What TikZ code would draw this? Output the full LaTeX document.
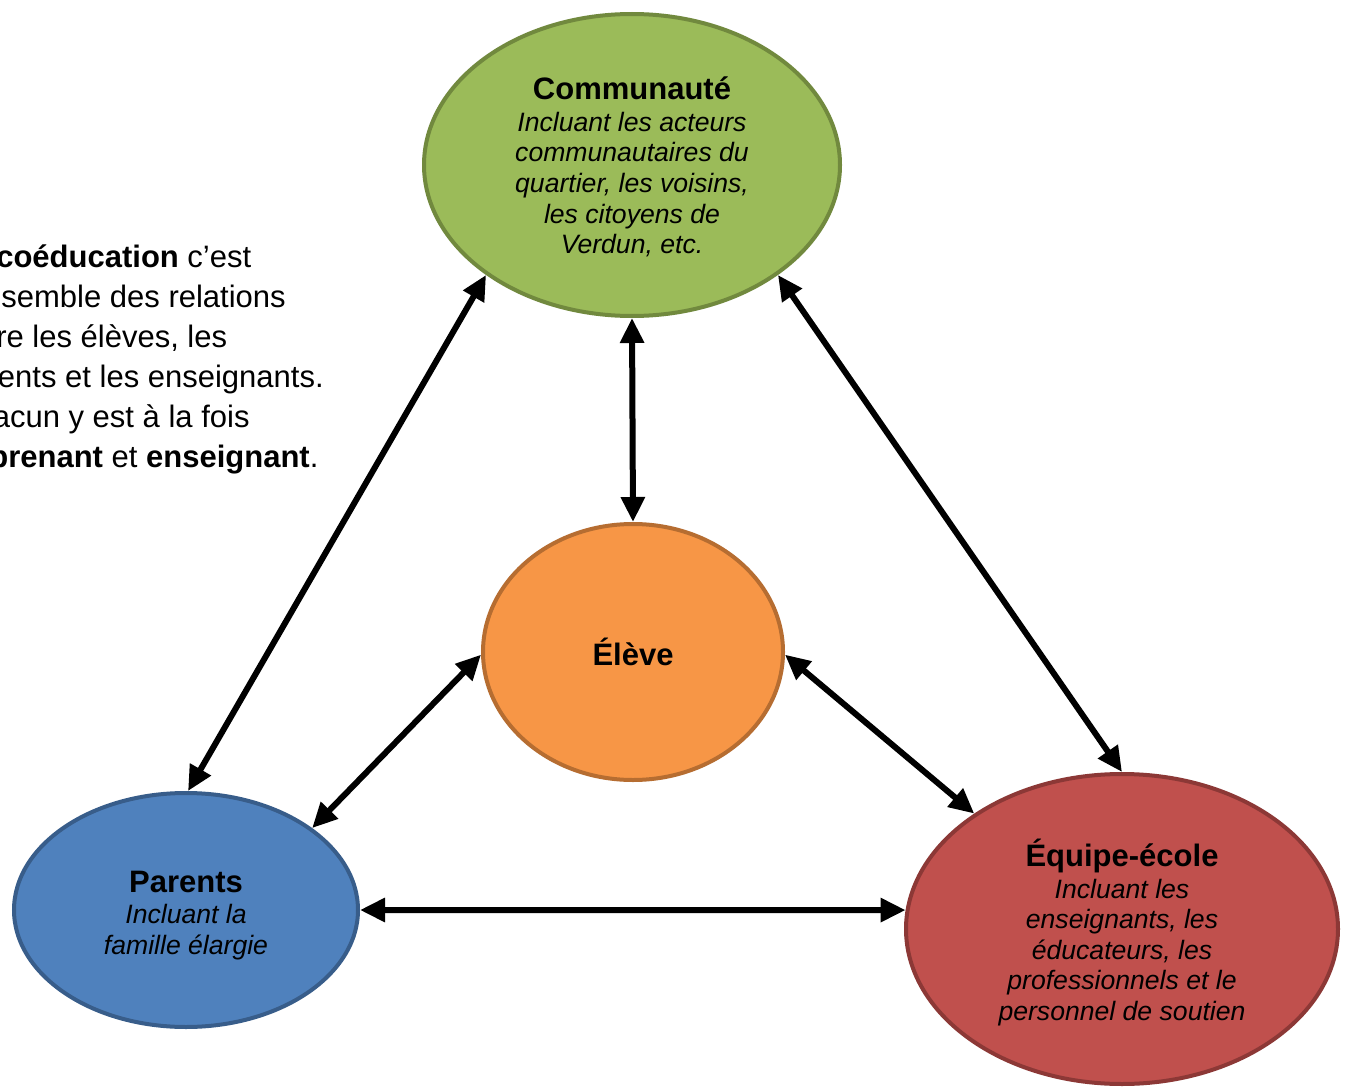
\documentclass[tikz,border=0pt]{standalone}
\usepackage{fontspec}
\setmainfont{Liberation Sans}
\usetikzlibrary{shapes.geometric,arrows.meta}
\definecolor{gfill}{HTML}{9BBB59}\definecolor{gline}{HTML}{71893E}
\definecolor{ofill}{HTML}{F79646}\definecolor{oline}{HTML}{B66D31}
\definecolor{bfill}{HTML}{4F81BD}\definecolor{bline}{HTML}{385D8A}
\definecolor{rfill}{HTML}{C0504D}\definecolor{rline}{HTML}{8C3836}
\tikzset{
  bubble/.style={ellipse, draw, line width=4pt, inner sep=0pt, align=center,
    font=\fontsize{26.6}{30.6}\selectfont\itshape},
  link/.style={line width=6pt, {Triangle[length=25pt,width=23pt]}-{Triangle[length=25pt,width=23pt]}}
}
\newcommand{\ttlfont}{\fontsize{31}{34}\selectfont\bfseries\upshape}
\begin{document}
\begin{tikzpicture}[x=1pt,y=-1pt]
\useasboundingbox (0,0) rectangle (1350,1089);
\clip (0,0) rectangle (1350,1089);
\fill[white] (0,0) rectangle (1350,1089);

\node[anchor=base west, inner sep=0pt] (intro) at (-47,267)
  {\parbox[t]{500pt}{\fontsize{31}{40}\selectfont\raggedright
   La \textbf{coéducation} c’est\\
   l’ensemble des relations\\
   entre les élèves, les\\
   parents et les enseignants.\\
   Chacun y est à la fois\\
   \textbf{apprenant} et \textbf{enseignant}.}};

\node[bubble, fill=gfill, draw=gline, minimum width=416pt, minimum height=302pt] (comm) at (632,165)
  {{\ttlfont\rule{0pt}{27pt}Communauté}\\[1pt]Incluant les acteurs\\communautaires du\\quartier, les voisins,\\les citoyens de\\Verdun, etc.};
\node[bubble, fill=ofill, draw=oline, minimum width=300pt, minimum height=256pt] (eleve) at (633,652)
  {\ttlfont Élève};
\node[bubble, fill=bfill, draw=bline, minimum width=344pt, minimum height=234pt] (parents) at (186,910)
  {{\ttlfont\rule{0pt}{32pt}Parents}\\[1pt]Incluant la\\famille élargie};
\node[bubble, fill=rfill, draw=rline, minimum width=432pt, minimum height=310pt] (equipe) at (1122,929)
  {{\ttlfont\rule{0pt}{34.5pt}Équipe-école}\\[1pt]Incluant les\\enseignants, les\\éducateurs, les\\professionnels et le\\personnel de soutien};

\draw[link] (comm.south) -- (eleve.north);
\draw[link] (comm.217.8) -- (parents.89);
\draw[link] (comm.-37.8) -- (equipe.90.7);
\draw[link] (eleve.181) -- (parents.33.9);
\draw[link] (eleve.-1) -- (equipe.142.5);
\draw[link] (parents.east) -- (equipe.175);
\end{tikzpicture}
\end{document}
